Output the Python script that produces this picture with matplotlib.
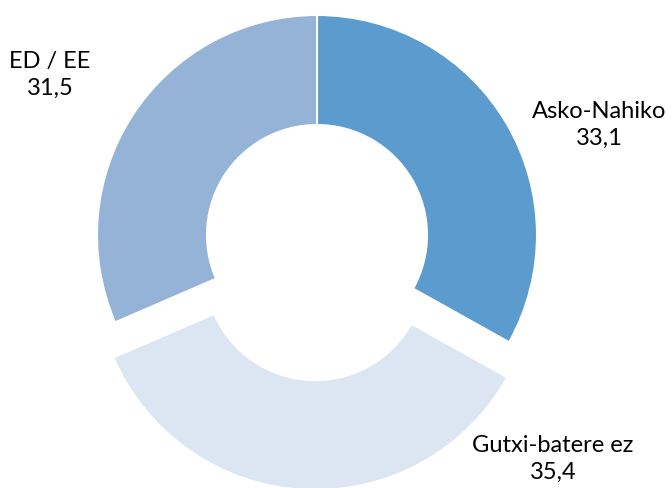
import matplotlib
matplotlib.use("Agg")
import matplotlib.pyplot as plt

categories = ["Asko-Nahiko", "Gutxi-batere ez", "ED / EE"]
values = [33.1, 35.4, 31.5]
value_labels = ["33,1", "35,4", "31,5"]
colors = ["#5B9BCD", "#DCE6F2", "#95B3D7"]
explode_frac = [0.0, 0.16, 0.0]

plt.rcParams['font.family'] = ['Lato', 'DejaVu Sans']

W, H = 672, 488
fig = plt.figure(figsize=(W / 100, H / 100), dpi=100)
ax = fig.add_axes([0, 0, 1, 1])

R = 220
cx, cy = 317, 235  # pixel coords of pie center (from top-left)
ax.pie(values, colors=colors, startangle=90, counterclock=False,
       radius=R, explode=[e * R for e in explode_frac],
       wedgeprops=dict(width=R * 0.5, edgecolor="white", linewidth=1.5),
       center=(0, 0), frame=False)

ax.set_xlim(-cx, W - cx)
ax.set_ylim(-(H - cy), cy)
ax.set_aspect("equal")
ax.axis("off")

label_pos = [(599, 125), (553, 459), (50, 75)]  # pixel positions of label centers
for cat, vl, (px, py) in zip(categories, value_labels, label_pos):
    ax.text(px - cx, cy - py, f"{cat}\n{vl}", ha="center", va="center",
            fontsize=17, color="black", linespacing=1.3)

fig.savefig("out.png", dpi=100)
